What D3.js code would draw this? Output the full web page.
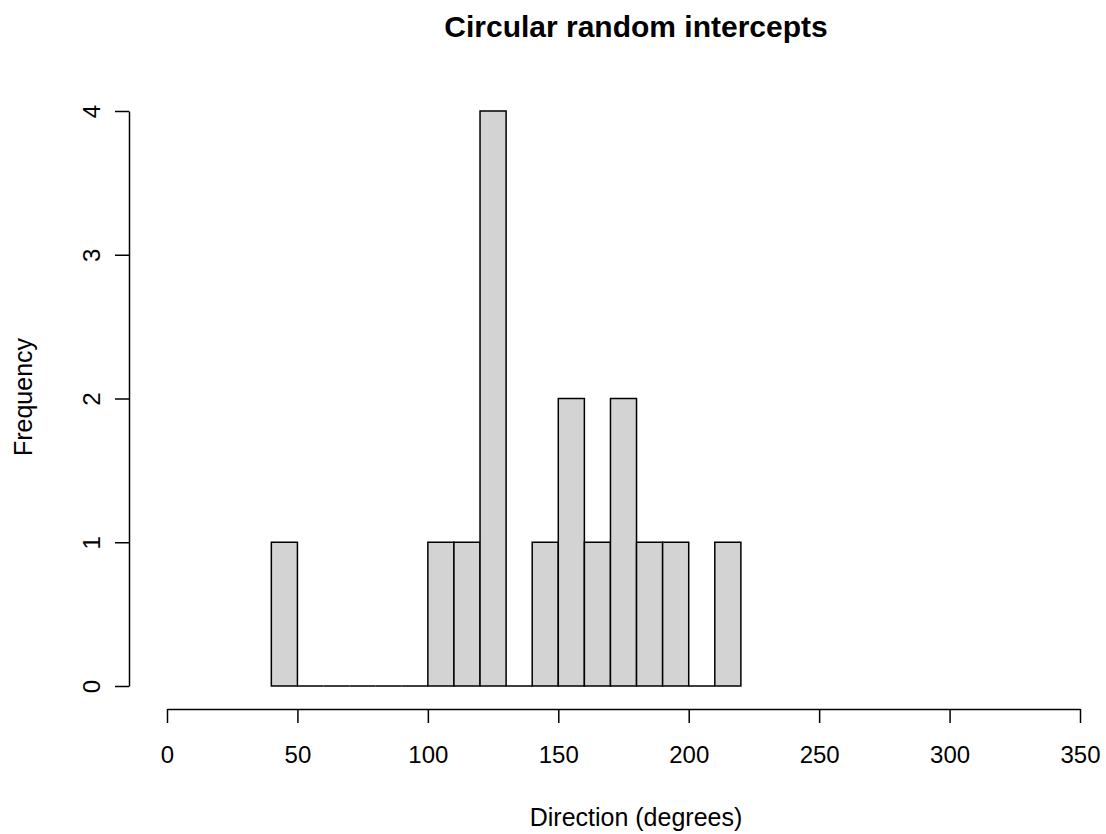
<!DOCTYPE html>
<html><head><meta charset="utf-8">
<script src="https://cdn.jsdelivr.net/npm/d3@7"></script>
<style>body{margin:0;background:#fff}svg{display:block}text{font-family:"Liberation Sans",Arial,sans-serif;fill:#000}</style>
</head><body>
<script>
const binStarts = [40,50,60,70,80,90,100,110,120,130,140,150,160,170,180,190,200,210];
const binWidth = 10;
const counts = [1,0,0,0,0,0,1,1,4,0,1,2,1,2,1,1,0,1];
const xTicks = [0,50,100,150,200,250,300,350];
const yTicks = [0,1,2,3,4];
const title = "Circular random intercepts";
const xLabel = "Direction (degrees)";
const yLabel = "Frequency";

const W = 1106, H = 834;
const svg = d3.select("body").append("svg").attr("width", W).attr("height", H);
const x = d3.scaleLinear().domain([0,350]).range([167,1080]);
const y = d3.scaleLinear().domain([0,4]).range([686,111]);

svg.append("g").selectAll("path").data(binStarts).join("path")
  .attr("d", (d,i)=>{
    const x0 = x(d), x1 = x(d+binWidth), y0 = y(0), y1 = y(counts[i]);
    return `M${x0},${y0}V${y1}H${x1}V${y0}Z`;
  })
  .attr("fill", "#d3d3d3").attr("stroke", "#000").attr("stroke-width", 1.5)
  .attr("stroke-linejoin","miter");

// x axis
const xa = svg.append("g").attr("transform", "translate(0,709)")
  .call(d3.axisBottom(x).tickValues(xTicks).tickSize(14).tickSizeOuter(0).tickPadding(23));
xa.select(".domain").attr("stroke-width",1.5);
xa.selectAll(".tick line").attr("stroke-width",1.5);
xa.selectAll("text").style("font-size","24px").style("font-family","Liberation Sans, Arial, sans-serif");

// y axis
const ya = svg.append("g").attr("transform", "translate(129,0)")
  .call(d3.axisLeft(y).tickValues(yTicks).tickSize(14).tickSizeOuter(0).tickPadding(0));
ya.select(".domain").attr("stroke-width",1.5);
ya.selectAll(".tick line").attr("stroke-width",1.5);
ya.selectAll("text").remove();
ya.selectAll(".tick").append("text")
  .attr("transform","translate(-37,0) rotate(-90)")
  .attr("text-anchor","middle").attr("dy","0.35em")
  .style("font-size","24px").style("font-family","Liberation Sans, Arial, sans-serif").style("fill","#000")
  .text(d=>d);

svg.append("text").attr("x", 636).attr("y", 37).attr("text-anchor","middle")
  .style("font-size","30px").style("font-weight","bold").text(title);
svg.append("text").attr("x", 636).attr("y", 826).attr("text-anchor","middle")
  .style("font-size","25px").text(xLabel);
svg.append("text").attr("transform","translate(32,397) rotate(-90)").attr("text-anchor","middle")
  .style("font-size","25px").text(yLabel);
</script>
</body></html>
